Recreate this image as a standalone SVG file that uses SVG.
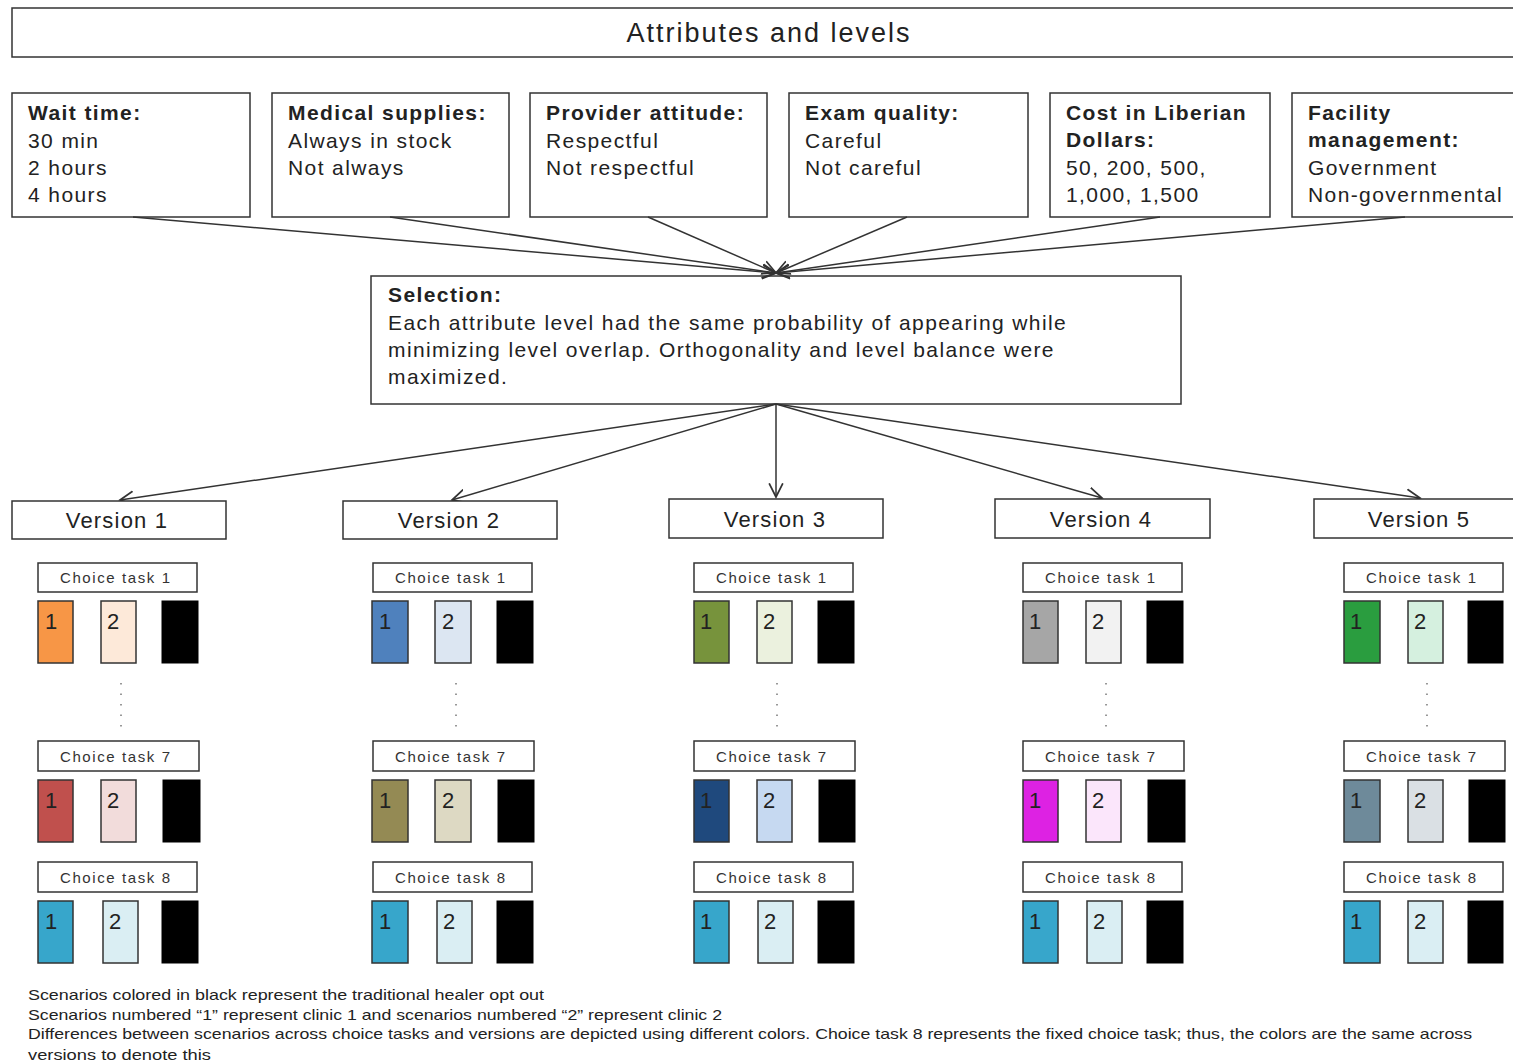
<svg xmlns="http://www.w3.org/2000/svg" width="1513" height="1063" viewBox="0 0 1513 1063">
<defs>
<marker id="ah" markerUnits="userSpaceOnUse" markerWidth="16" markerHeight="16" refX="12" refY="6" orient="auto" viewBox="0 0 14 12">
<path d="M0,0 L12,6 L0,12" fill="none" stroke="#333" stroke-width="1.5"/>
</marker>
</defs>
<style>
.box{fill:#fff;stroke:#333;stroke-width:1.5}
.t{font-family:"Liberation Sans",Arial,sans-serif;fill:#222}
.h{font-size:21px;font-weight:bold;letter-spacing:1.4px}
.b{font-size:21px;letter-spacing:1.4px}
.v{font-size:22px;letter-spacing:1.2px}
.ct{font-size:15px;fill:#333}
.num{font-family:"Liberation Sans",Arial,sans-serif;font-size:22px;fill:#222}
.r{stroke:#333;stroke-width:1.5}
.blk{fill:#000;stroke:#000;stroke-width:1}
.cn{stroke:#333;stroke-width:1.5;fill:none}
.dot{stroke:#777;stroke-width:1.5;stroke-dasharray:1.5 9}
.note{font-family:"Liberation Sans",Arial,sans-serif;font-size:15px;fill:#222}
</style>
<rect width="1513" height="1063" fill="#fff"/>

<g id="title">
<rect class="box" x="12" y="8" width="1510" height="49"/>
<text class="t" x="769" y="42" font-size="27" letter-spacing="2" text-anchor="middle">Attributes and levels</text>
</g>

<g id="attr-wait">
<rect class="box" x="12" y="93" width="238" height="124"/>
<text class="t h" x="28" y="120">Wait time:</text>
<text class="t b" x="28" y="148">30 min</text>
<text class="t b" x="28" y="175">2 hours</text>
<text class="t b" x="28" y="202">4 hours</text>
</g>
<g id="attr-supplies">
<rect class="box" x="272" y="93" width="237" height="124"/>
<text class="t h" x="288" y="120">Medical supplies:</text>
<text class="t b" x="288" y="148">Always in stock</text>
<text class="t b" x="288" y="175">Not always</text>
</g>
<g id="attr-attitude">
<rect class="box" x="530" y="93" width="237" height="124"/>
<text class="t h" x="546" y="120">Provider attitude:</text>
<text class="t b" x="546" y="148">Respectful</text>
<text class="t b" x="546" y="175">Not respectful</text>
</g>
<g id="attr-exam">
<rect class="box" x="789" y="93" width="239" height="124"/>
<text class="t h" x="805" y="120">Exam quality:</text>
<text class="t b" x="805" y="148">Careful</text>
<text class="t b" x="805" y="175">Not careful</text>
</g>
<g id="attr-cost">
<rect class="box" x="1050" y="93" width="220" height="124"/>
<text class="t h" x="1066" y="120">Cost in Liberian</text>
<text class="t h" x="1066" y="147">Dollars:</text>
<text class="t b" x="1066" y="175">50, 200, 500,</text>
<text class="t b" x="1066" y="202">1,000, 1,500</text>
</g>
<g id="attr-facility">
<rect class="box" x="1292" y="93" width="230" height="124"/>
<text class="t h" x="1308" y="120">Facility</text>
<text class="t h" x="1308" y="147">management:</text>
<text class="t b" x="1308" y="175">Government</text>
<text class="t b" x="1308" y="202" letter-spacing="0.8">Non-governmental</text>
</g>

<g id="selection">
<rect class="box" x="371" y="276" width="810" height="128"/>
<text class="t h" x="388" y="302">Selection:</text>
<text class="t b" x="388" y="330">Each attribute level had the same probability of appearing while</text>
<text class="t b" x="388" y="357">minimizing level overlap. Orthogonality and level balance were</text>
<text class="t b" x="388" y="384">maximized.</text>
</g>

<g id="connectors">
<line class="cn" x1="133" y1="217" x2="776" y2="273" marker-end="url(#ah)"/>
<line class="cn" x1="390" y1="217" x2="776" y2="273" marker-end="url(#ah)"/>
<line class="cn" x1="648" y1="217" x2="776" y2="273" marker-end="url(#ah)"/>
<line class="cn" x1="907" y1="217" x2="776" y2="273" marker-end="url(#ah)"/>
<line class="cn" x1="1160" y1="217" x2="776" y2="273" marker-end="url(#ah)"/>
<line class="cn" x1="1405" y1="217" x2="776" y2="273" marker-end="url(#ah)"/>
<line class="cn" x1="776" y1="404" x2="120" y2="500" marker-end="url(#ah)"/>
<line class="cn" x1="776" y1="404" x2="452" y2="500" marker-end="url(#ah)"/>
<line class="cn" x1="776" y1="404" x2="776" y2="497" marker-end="url(#ah)"/>
<line class="cn" x1="776" y1="404" x2="1102" y2="498" marker-end="url(#ah)"/>
<line class="cn" x1="776" y1="404" x2="1420" y2="498" marker-end="url(#ah)"/>
</g>

<g id="version-1">
<rect class="box" x="12" y="501" width="214" height="38"/>
<text class="t v" x="117" y="528" text-anchor="middle">Version 1</text>
<rect class="box" x="38" y="563" width="159" height="29"/>
<text class="t ct" x="60" y="583" textLength="110" lengthAdjust="spacing">Choice task 1</text>
<rect class="r" x="38" y="601" width="35" height="62" fill="#F79646"/><text class="num" x="45" y="629">1</text>
<rect class="r" x="101" y="601" width="35" height="62" fill="#FDE9D9"/><text class="num" x="107" y="629">2</text>
<rect class="blk" x="162" y="601" width="36" height="62"/>
<line class="dot" x1="121" y1="683" x2="121" y2="730"/>
<rect class="box" x="38" y="741" width="161" height="30"/>
<text class="t ct" x="60" y="762" textLength="110" lengthAdjust="spacing">Choice task 7</text>
<rect class="r" x="38" y="780" width="35" height="62" fill="#C0504D"/><text class="num" x="45" y="808">1</text>
<rect class="r" x="101" y="780" width="35" height="62" fill="#F2DCDB"/><text class="num" x="107" y="808">2</text>
<rect class="blk" x="163" y="780" width="37" height="62"/>
<rect class="box" x="38" y="862" width="159" height="30"/>
<text class="t ct" x="60" y="883" textLength="110" lengthAdjust="spacing">Choice task 8</text>
<rect class="r" x="38" y="901" width="35" height="62" fill="#37A6CB"/><text class="num" x="45" y="929">1</text>
<rect class="r" x="103" y="901" width="35" height="62" fill="#DAEEF3"/><text class="num" x="109" y="929">2</text>
<rect class="blk" x="162" y="901" width="36" height="62"/>
</g>

<g id="version-2">
<rect class="box" x="343" y="501" width="214" height="38"/>
<text class="t v" x="449" y="528" text-anchor="middle">Version 2</text>
<rect class="box" x="373" y="563" width="159" height="29"/>
<text class="t ct" x="395" y="583" textLength="110" lengthAdjust="spacing">Choice task 1</text>
<rect class="r" x="372" y="601" width="36" height="62" fill="#4F81BD"/><text class="num" x="379" y="629">1</text>
<rect class="r" x="435" y="601" width="36" height="62" fill="#DCE6F2"/><text class="num" x="442" y="629">2</text>
<rect class="blk" x="497" y="601" width="36" height="62"/>
<line class="dot" x1="456" y1="683" x2="456" y2="730"/>
<rect class="box" x="373" y="741" width="161" height="30"/>
<text class="t ct" x="395" y="762" textLength="110" lengthAdjust="spacing">Choice task 7</text>
<rect class="r" x="372" y="780" width="36" height="62" fill="#948A54"/><text class="num" x="379" y="808">1</text>
<rect class="r" x="435" y="780" width="36" height="62" fill="#DDD9C3"/><text class="num" x="442" y="808">2</text>
<rect class="blk" x="498" y="780" width="36" height="62"/>
<rect class="box" x="373" y="862" width="159" height="30"/>
<text class="t ct" x="395" y="883" textLength="110" lengthAdjust="spacing">Choice task 8</text>
<rect class="r" x="372" y="901" width="36" height="62" fill="#37A6CB"/><text class="num" x="379" y="929">1</text>
<rect class="r" x="437" y="901" width="35" height="62" fill="#DAEEF3"/><text class="num" x="443" y="929">2</text>
<rect class="blk" x="497" y="901" width="36" height="62"/>
</g>

<g id="version-3">
<rect class="box" x="669" y="499" width="214" height="39"/>
<text class="t v" x="775" y="527" text-anchor="middle">Version 3</text>
<rect class="box" x="694" y="563" width="159" height="29"/>
<text class="t ct" x="716" y="583" textLength="110" lengthAdjust="spacing">Choice task 1</text>
<rect class="r" x="694" y="601" width="35" height="62" fill="#77933C"/><text class="num" x="700" y="629">1</text>
<rect class="r" x="757" y="601" width="35" height="62" fill="#EBF1DE"/><text class="num" x="763" y="629">2</text>
<rect class="blk" x="818" y="601" width="36" height="62"/>
<line class="dot" x1="777" y1="683" x2="777" y2="730"/>
<rect class="box" x="694" y="741" width="161" height="30"/>
<text class="t ct" x="716" y="762" textLength="110" lengthAdjust="spacing">Choice task 7</text>
<rect class="r" x="694" y="780" width="35" height="62" fill="#1F497D"/><text class="num" x="700" y="808">1</text>
<rect class="r" x="757" y="780" width="35" height="62" fill="#C6D9F1"/><text class="num" x="763" y="808">2</text>
<rect class="blk" x="819" y="780" width="36" height="62"/>
<rect class="box" x="694" y="862" width="159" height="30"/>
<text class="t ct" x="716" y="883" textLength="110" lengthAdjust="spacing">Choice task 8</text>
<rect class="r" x="694" y="901" width="35" height="62" fill="#37A6CB"/><text class="num" x="700" y="929">1</text>
<rect class="r" x="758" y="901" width="35" height="62" fill="#DAEEF3"/><text class="num" x="764" y="929">2</text>
<rect class="blk" x="818" y="901" width="36" height="62"/>
</g>

<g id="version-4">
<rect class="box" x="995" y="499" width="215" height="39"/>
<text class="t v" x="1101" y="527" text-anchor="middle">Version 4</text>
<rect class="box" x="1023" y="563" width="159" height="29"/>
<text class="t ct" x="1045" y="583" textLength="110" lengthAdjust="spacing">Choice task 1</text>
<rect class="r" x="1023" y="601" width="35" height="62" fill="#A6A6A6"/><text class="num" x="1029" y="629">1</text>
<rect class="r" x="1086" y="601" width="35" height="62" fill="#F2F2F2"/><text class="num" x="1092" y="629">2</text>
<rect class="blk" x="1147" y="601" width="36" height="62"/>
<line class="dot" x1="1106" y1="683" x2="1106" y2="730"/>
<rect class="box" x="1023" y="741" width="161" height="30"/>
<text class="t ct" x="1045" y="762" textLength="110" lengthAdjust="spacing">Choice task 7</text>
<rect class="r" x="1023" y="780" width="35" height="62" fill="#DD22E3"/><text class="num" x="1029" y="808">1</text>
<rect class="r" x="1086" y="780" width="35" height="62" fill="#FBE6FB"/><text class="num" x="1092" y="808">2</text>
<rect class="blk" x="1148" y="780" width="37" height="62"/>
<rect class="box" x="1023" y="862" width="159" height="30"/>
<text class="t ct" x="1045" y="883" textLength="110" lengthAdjust="spacing">Choice task 8</text>
<rect class="r" x="1023" y="901" width="35" height="62" fill="#37A6CB"/><text class="num" x="1029" y="929">1</text>
<rect class="r" x="1087" y="901" width="35" height="62" fill="#DAEEF3"/><text class="num" x="1093" y="929">2</text>
<rect class="blk" x="1147" y="901" width="36" height="62"/>
</g>

<g id="version-5">
<rect class="box" x="1314" y="499" width="210" height="39"/>
<text class="t v" x="1419" y="527" text-anchor="middle">Version 5</text>
<rect class="box" x="1344" y="563" width="159" height="29"/>
<text class="t ct" x="1366" y="583" textLength="110" lengthAdjust="spacing">Choice task 1</text>
<rect class="r" x="1344" y="601" width="36" height="62" fill="#2A9D3F"/><text class="num" x="1350" y="629">1</text>
<rect class="r" x="1408" y="601" width="35" height="62" fill="#D5F0DF"/><text class="num" x="1414" y="629">2</text>
<rect class="blk" x="1468" y="601" width="35" height="62"/>
<line class="dot" x1="1427" y1="683" x2="1427" y2="730"/>
<rect class="box" x="1344" y="741" width="161" height="30"/>
<text class="t ct" x="1366" y="762" textLength="110" lengthAdjust="spacing">Choice task 7</text>
<rect class="r" x="1344" y="780" width="36" height="62" fill="#6E8A9A"/><text class="num" x="1350" y="808">1</text>
<rect class="r" x="1408" y="780" width="35" height="62" fill="#DAE0E4"/><text class="num" x="1414" y="808">2</text>
<rect class="blk" x="1469" y="780" width="36" height="62"/>
<rect class="box" x="1344" y="862" width="159" height="30"/>
<text class="t ct" x="1366" y="883" textLength="110" lengthAdjust="spacing">Choice task 8</text>
<rect class="r" x="1344" y="901" width="36" height="62" fill="#37A6CB"/><text class="num" x="1350" y="929">1</text>
<rect class="r" x="1408" y="901" width="35" height="62" fill="#DAEEF3"/><text class="num" x="1414" y="929">2</text>
<rect class="blk" x="1468" y="901" width="35" height="62"/>
</g>

<g id="notes">
<text class="note" x="28" y="1000" textLength="516" lengthAdjust="spacingAndGlyphs">Scenarios colored in black represent the traditional healer opt out</text>
<text class="note" x="28" y="1020" textLength="694" lengthAdjust="spacingAndGlyphs">Scenarios numbered “1” represent clinic 1 and scenarios numbered “2” represent clinic 2</text>
<text class="note" x="28" y="1039" textLength="1444" lengthAdjust="spacingAndGlyphs">Differences between scenarios across choice tasks and versions are depicted using different colors. Choice task 8 represents the fixed choice task; thus, the colors are the same across</text>
<text class="note" x="28" y="1060" textLength="183" lengthAdjust="spacingAndGlyphs">versions to denote this</text>
</g>
</svg>
